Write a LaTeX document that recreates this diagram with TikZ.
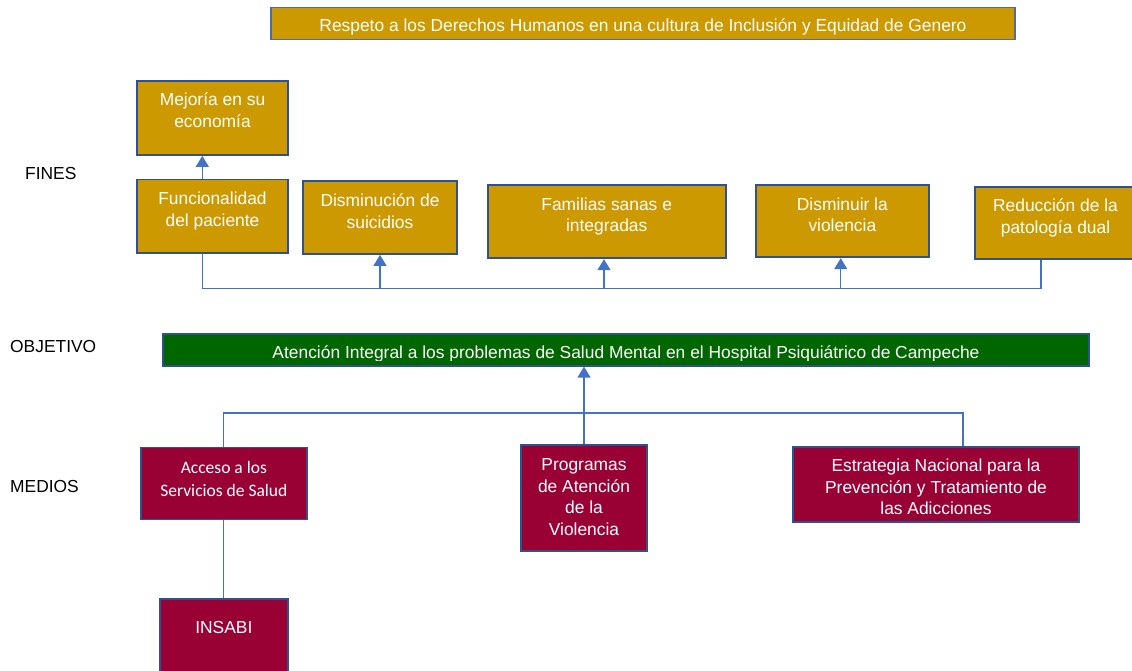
\documentclass[tikz,border=0pt]{standalone}
\usepackage{fontspec}
\setmainfont{Liberation Sans}
\newfontfamily\calib{Carlito}
\usetikzlibrary{arrows.meta}
\definecolor{gold}{HTML}{CC9900}
\definecolor{dgreen}{HTML}{006600}
\definecolor{maroon}{HTML}{990033}
\definecolor{bordc}{HTML}{2F528F}
\definecolor{topbord}{HTML}{4A6BAF}
\definecolor{connc}{HTML}{4472C4}
\tikzset{
  box/.style={draw=bordc, line width=1.8pt, inner sep=0pt},
  goldbox/.style={box, fill=gold},
  greenbox/.style={box, fill=dgreen},
  redbox/.style={box, fill=maroon},
  txt/.style={text=white, font=\fontsize{17.4}{21.5}\selectfont, align=center, inner sep=0pt},
  ctxt/.style={text=white, font=\calib\fontsize{17.5}{22.7}\selectfont, align=center, inner sep=0pt},
  lbl/.style={text=black, font=\fontsize{17.4}{21.5}\selectfont, inner sep=0pt, anchor=base west},
  conn/.style={draw=connc, line width=1.2pt},
  arr/.style={-{Triangle[width=13pt,length=11pt]}}
}
\begin{document}
\begin{tikzpicture}[x=1pt,y=1pt]
\useasboundingbox (0,0) rectangle (1132,671);
\fill[white] (0,0) rectangle (1132,671);

% ---- boxes ----
\node[goldbox, draw=topbord, line width=1.5pt, minimum width=744pt, minimum height=32pt] (top) at (643,647.7) {};
\node[goldbox, minimum width=151pt, minimum height=74.3pt] (mej) at (212.5,553.15) {};
\node[goldbox, minimum width=151pt, minimum height=73.2pt] (func) at (212.5,454.9) {};
\node[goldbox, minimum width=154pt, minimum height=73pt] (suic) at (380,453.5) {};
\node[goldbox, minimum width=237.4pt, minimum height=73.3pt] (fam) at (607,449.35) {};
\node[goldbox, minimum width=172.7pt, minimum height=72.3pt] (viol) at (842.35,449.85) {};
\node[goldbox, minimum width=160.4pt, minimum height=72.6pt] (dual) at (1055.5,448) {};
\node[greenbox, minimum width=926pt, minimum height=31.4pt] (obj) at (626,321) {};
\node[redbox, minimum width=165.7pt, minimum height=72pt] (acc) at (223.85,187.5) {};
\node[redbox, minimum width=126pt, minimum height=106pt] (prog) at (584,173) {};
\node[redbox, minimum width=286pt, minimum height=75pt] (estr) at (936,186.5) {};
\node[redbox, minimum width=127.7pt, minimum height=75.4pt] (insabi) at (223.85,34) {};

% ---- texts ----
\begin{scope}
\clip (top.north west) rectangle ([yshift=5.9pt]top.south east);
\node[txt, anchor=base] (t-top) at (643,639.3) {Respeto a los Derechos Humanos en una cultura de Inclusión y Equidad de Genero};
\end{scope}
\node[txt, anchor=north] (t-mej) at (212.5,578.5) {Mejoría en su\\economía};
\node[txt, anchor=north] (t-func) at (212.5,479.2) {Funcionalidad\\del paciente};
\node[txt, anchor=north] (t-suic) at (380,477.5) {Disminución de\\suicidios};
\node[txt, anchor=north] (t-fam) at (606.7,473.5) {Familias sanas e\\integradas};
\node[txt, anchor=north] (t-viol) at (842.35,473.5) {Disminuir la\\violencia};
\node[txt, anchor=north] (t-dual) at (1055.5,472.5) {Reducción de la\\patología dual};
\begin{scope}
\clip (obj.north west) rectangle ([yshift=5.7pt]obj.south east);
\node[txt, anchor=base] (t-obj) at (626,312.7) {Atención Integral a los problemas de Salud Mental en el Hospital Psiquiátrico de Campeche};
\end{scope}
\node[ctxt, anchor=north] (t-acc) at (223.85,210) {Acceso a los\\Servicios de Salud};
\node[txt, anchor=north] (t-prog) at (584,212.5) {Programas\\de Atención\\de la\\Violencia};
\begin{scope}
\clip (estr.north west) rectangle ([yshift=4pt]estr.south east);
\node[txt, anchor=north] (t-estr) at (936,212) {Estrategia Nacional para la\\Prevención y Tratamiento de\\las Adicciones};
\end{scope}
\node[txt, anchor=base] (t-insabi) at (223.85,37) {INSABI};

% ---- side labels ----
\node[lbl] (l-fines) at (25,491.7) {FINES};
\node[lbl] (l-obj) at (10,318) {OBJETIVO};
\node[lbl] (l-medios) at (10,178) {MEDIOS};

% ---- connectors: fines ----
\coordinate (bl) at (202.3,382.5);
\coordinate (br) at (1041,382.5);
\draw[conn, arr] ([xshift=-10.2pt]func.north) -- ([xshift=-10.2pt]mej.south);
\draw[conn] ([xshift=-10.2pt]func.south) -- (bl) -- (br) -- (br |- dual.south);
\draw[conn, arr] (suic.south |- bl) -- (suic.south);
\draw[conn, arr] ([xshift=-3pt]fam.south |- bl) -- ([xshift=-3pt]fam.south);
\draw[conn, arr] ([xshift=-1.6pt]viol.south |- bl) -- ([xshift=-1.6pt]viol.south);

% ---- connectors: medios ----
\coordinate (ml) at (223.85,258);
\coordinate (mr) at (963,258);
\draw[conn] (acc.north) -- (ml) -- (mr) -- (mr |- estr.north);
\draw[conn, arr] (prog.north) -- (prog.north |- obj.south);
\draw[conn] (acc.south) -- (insabi.north);
\end{tikzpicture}
\end{document}
